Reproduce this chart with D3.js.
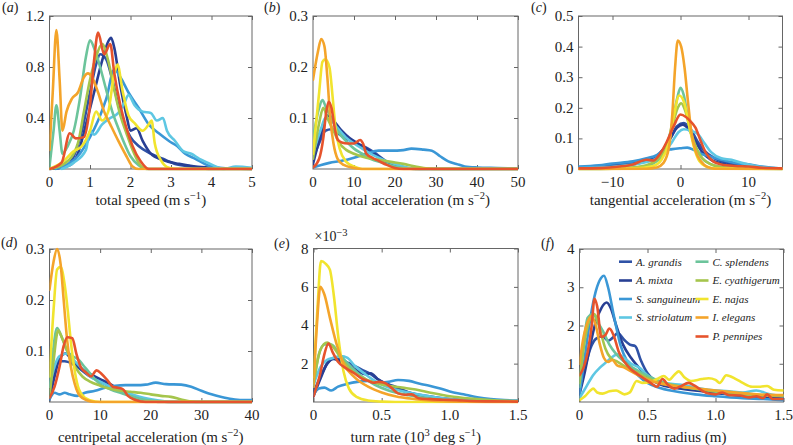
<!DOCTYPE html>
<html><head><meta charset="utf-8">
<script src="https://cdn.jsdelivr.net/npm/d3@7"></script>
<style>
body{margin:0;background:#fff}
svg{display:block}
</style></head><body>
<svg id="chart" width="793" height="445"></svg>
<script>
// ---------- species & colours ----------
const species = ["A. grandis","A. mixta","S. sanguineum","S. striolatum","C. splendens","E. cyathigerum","E. najas","I. elegans","P. pennipes"];
const colors  = ["#2f52a6","#283f94","#3a97d6","#5ec7e3","#6cc49b","#a5c54c","#f1e42e","#f4a42a","#e6532c"];

// ---------- (a) total speed ----------
const speedData = [
 [[0,0],[0.4,0.02],[0.6,0.1],[0.8,0.3],[1.0,0.6],[1.15,0.82],[1.25,0.9],[1.4,0.86],[1.55,0.7],[1.7,0.5],[1.85,0.35],[2.0,0.25],[2.2,0.18],[2.5,0.12],[2.8,0.08],[3.1,0.04],[3.5,0.02],[4.0,0],[5,0]],
 [[0,0],[0.5,0.03],[0.7,0.12],[0.9,0.35],[1.1,0.6],[1.3,0.85],[1.45,1.0],[1.52,1.03],[1.6,0.95],[1.75,0.65],[1.9,0.42],[2.0,0.3],[2.15,0.32],[2.3,0.22],[2.5,0.12],[2.8,0.07],[3.2,0.04],[3.6,0.02],[4.0,0.01],[5,0]],
 [[0.15,0],[0.4,0.03],[0.7,0.1],[1.0,0.25],[1.2,0.38],[1.4,0.55],[1.6,0.78],[1.75,0.72],[1.95,0.6],[2.2,0.48],[2.45,0.35],[2.7,0.28],[2.95,0.22],[3.15,0.18],[3.35,0.12],[3.6,0.08],[3.9,0.03],[4.2,0.01],[5,0]],
 [[0.3,0],[0.6,0.05],[0.9,0.15],[1.0,0.3],[1.1,0.27],[1.3,0.35],[1.5,0.4],[1.7,0.44],[1.85,0.52],[1.95,0.58],[2.1,0.5],[2.3,0.45],[2.5,0.44],[2.65,0.38],[2.8,0.4],[2.9,0.3],[3.1,0.22],[3.3,0.14],[3.5,0.12],[3.7,0.08],[3.9,0.05],[4.1,0.02],[4.3,0],[4.6,0.02],[5,0.01]],
 [[0,0.02],[0.1,0.3],[0.17,0.5],[0.25,0.3],[0.32,0.12],[0.45,0.18],[0.6,0.3],[0.75,0.55],[0.9,0.88],[1.0,1.01],[1.1,0.95],[1.25,0.8],[1.4,0.62],[1.55,0.45],[1.7,0.32],[1.85,0.2],[2.0,0.1],[2.2,0.03],[2.4,0],[5,0]],
 [[0,0],[0.4,0.05],[0.7,0.2],[0.85,0.45],[1.0,0.7],[1.15,0.88],[1.3,0.98],[1.45,0.85],[1.6,0.62],[1.75,0.42],[1.9,0.28],[2.05,0.15],[2.2,0.05],[2.4,0],[5,0]],
 [[0,0],[0.3,0.05],[0.6,0.14],[0.8,0.18],[1.0,0.3],[1.15,0.45],[1.3,0.38],[1.45,0.45],[1.6,0.75],[1.68,0.82],[1.8,0.62],[1.95,0.42],[2.1,0.36],[2.3,0.3],[2.45,0.35],[2.52,0.38],[2.6,0.2],[2.75,0.07],[2.95,0.01],[3.2,0],[5,0]],
 [[0,0.15],[0.08,0.6],[0.17,1.09],[0.25,0.7],[0.32,0.3],[0.42,0.45],[0.55,0.55],[0.7,0.6],[0.85,0.72],[0.95,0.75],[1.05,0.72],[1.2,0.6],[1.35,0.45],[1.5,0.35],[1.7,0.22],[1.9,0.1],[2.05,0.02],[2.2,0],[5,0]],
 [[0,0],[0.3,0.05],[0.5,0.28],[0.65,0.24],[0.85,0.25],[1.0,0.5],[1.1,0.85],[1.2,1.07],[1.35,0.9],[1.5,0.98],[1.6,0.75],[1.75,0.5],[1.9,0.32],[2.05,0.18],[2.25,0.06],[2.45,0],[5,0]]
];
const speedXTicks = [0,1,2,3,4,5];
const speedXLabels = ["0","1","2","3","4","5"];
const speedYTicks = [0.4,0.8,1.2];
const speedYLabels = ["0.4","0.8","1.2"];

// ---------- (b) total acceleration ----------
const accData = [
 [[0,0.02],[2,0.06],[3,0.075],[4.5,0.078],[6,0.07],[8,0.06],[10.5,0.05],[13,0.042],[15,0.032],[17,0.02],[19,0.01],[22,0.003],[26,0],[50,0]],
 [[0,0.01],[2,0.07],[3.5,0.105],[5,0.095],[7,0.075],[9,0.06],[11,0.05],[13,0.04],[15,0.03],[17,0.018],[19,0.008],[22,0.002],[25,0],[50,0]],
 [[0,0.003],[2,0.008],[4,0.012],[7,0.016],[10,0.022],[13,0.03],[16,0.036],[19,0.036],[22,0.037],[24,0.04],[27,0.038],[29,0.036],[31,0.025],[33,0.015],[35,0.01],[37,0.005],[40,0.003],[45,0.002],[50,0.001]],
 [[0,0.03],[2,0.08],[3,0.1],[4.5,0.095],[6,0.08],[8,0.062],[10,0.05],[12,0.04],[14,0.03],[16,0.022],[18,0.015],[20,0.01],[23,0.003],[26,0],[50,0]],
 [[0,0.06],[1.5,0.12],[2.3,0.135],[3.2,0.12],[4.5,0.1],[6,0.075],[8,0.055],[10,0.04],[12,0.03],[14,0.02],[17,0.012],[20,0.005],[23,0.001],[26,0],[50,0]],
 [[0,0.02],[1.5,0.09],[2.5,0.12],[3.5,0.1],[5,0.075],[6.5,0.05],[8,0.038],[10,0.03],[13,0.022],[16,0.018],[19,0.014],[22,0.01],[25,0.005],[28,0.001],[31,0],[50,0]],
 [[0,0.03],[1.5,0.15],[2.3,0.21],[3,0.215],[4,0.2],[4.8,0.14],[5.5,0.08],[6.5,0.04],[8,0.015],[10,0.005],[12,0],[50,0]],
 [[0,0.175],[1.2,0.23],[2,0.255],[2.8,0.24],[3.5,0.18],[4.2,0.1],[5,0.05],[6,0.02],[7.5,0.008],[10,0.002],[12,0],[50,0]],
 [[0,0.003],[1.5,0.02],[2.5,0.06],[3.2,0.11],[3.8,0.132],[4.5,0.12],[5.3,0.08],[6,0.058],[7,0.052],[8.5,0.05],[10,0.05],[11.5,0.057],[12.2,0.05],[13,0.03],[14.5,0.022],[16,0.016],[18,0.008],[20,0.002],[22,0],[50,0]]
];
const accXTicks = [0,10,20,30,40,50];
const accXLabels = ["0","10","20","30","40","50"];
const accYTicks = [0.1,0.2,0.3];
const accYLabels = ["0.1","0.2","0.3"];

// ---------- (c) tangential acceleration ----------
const tanData = [
 [[-15,0.005],[-12,0.008],[-9,0.015],[-6,0.025],[-4,0.035],[-2.5,0.06],[-1.5,0.1],[-0.5,0.14],[0.5,0.15],[1.5,0.13],[2.5,0.09],[3.5,0.06],[5,0.035],[7,0.02],[9,0.012],[11,0.006],[13,0.003],[15,0.001]],
 [[-15,0.003],[-10,0.008],[-6,0.02],[-4,0.035],[-2.5,0.065],[-1.5,0.1],[-0.5,0.135],[0.3,0.145],[1.2,0.13],[2.2,0.09],[3.2,0.055],[4.5,0.03],[6,0.018],[8,0.01],[11,0.005],[15,0.001]],
 [[-15,0.008],[-12,0.012],[-10,0.018],[-7,0.025],[-5,0.035],[-3.5,0.045],[-2.5,0.06],[-1.2,0.065],[0,0.068],[1,0.07],[2,0.062],[3,0.05],[4.5,0.04],[6,0.03],[8,0.02],[10,0.015],[12,0.008],[14,0.003],[15,0.002]],
 [[-15,0.003],[-9,0.01],[-6,0.018],[-4,0.03],[-2.5,0.05],[-1.2,0.09],[-0.3,0.12],[0.5,0.13],[1.5,0.125],[2.5,0.115],[3.5,0.085],[4.5,0.055],[6,0.035],[7.5,0.03],[9,0.02],[11,0.01],[13,0.004],[15,0.002]],
 [[-15,0],[-8,0.003],[-5,0.01],[-3.5,0.025],[-2.2,0.06],[-1.2,0.15],[-0.5,0.23],[0,0.265],[0.5,0.24],[1.2,0.15],[2.2,0.07],[3.2,0.035],[4.5,0.015],[6,0.006],[9,0.002],[15,0]],
 [[-15,0],[-8,0.003],[-5,0.012],[-3.5,0.03],[-2.2,0.065],[-1.2,0.14],[-0.4,0.2],[0.1,0.215],[0.7,0.19],[1.4,0.13],[2.3,0.07],[3.2,0.035],[4.5,0.015],[6,0.006],[9,0.002],[15,0]],
 [[-15,0],[-7,0.002],[-4,0.01],[-2.8,0.03],[-1.8,0.08],[-1,0.17],[-0.2,0.24],[0.5,0.22],[1.2,0.15],[2,0.07],[2.8,0.025],[3.8,0.008],[5,0.002],[15,0]],
 [[-15,0],[-5,0.001],[-3.5,0.005],[-2.5,0.02],[-1.7,0.07],[-1.2,0.18],[-0.8,0.33],[-0.4,0.42],[0.1,0.4],[0.6,0.33],[1.1,0.22],[1.6,0.12],[2.2,0.06],[3,0.025],[4,0.006],[5,0.001],[15,0]],
 [[-15,0.002],[-12,0.003],[-9,0.008],[-7,0.015],[-5,0.03],[-4,0.028],[-3,0.05],[-2,0.09],[-1,0.14],[0,0.178],[0.8,0.17],[1.5,0.155],[2.2,0.135],[3,0.09],[3.8,0.05],[4.8,0.025],[6,0.015],[8,0.01],[10,0.008],[12,0.004],[15,0.002]]
];
const tanXTicks = [-10,0,10];
const tanXLabels = ["\u221210","0","10"];
const tanYTicks = [0,0.1,0.2,0.3,0.4,0.5];
const tanYLabels = ["0","0.1","0.2","0.3","0.4","0.5"];

// ---------- (d) centripetal acceleration ----------
const cenData = [
 [[0,0.01],[0.8,0.06],[1.5,0.08],[3,0.08],[4.5,0.075],[6,0.065],[8,0.05],[10,0.04],[12,0.03],[14,0.02],[16,0.012],[18,0.006],[21,0.002],[24,0],[40,0]],
 [[0,0.005],[1,0.05],[2,0.085],[3.2,0.095],[4.5,0.08],[6,0.068],[8,0.055],[10,0.045],[12,0.035],[14,0.022],[16,0.012],[19,0.004],[22,0],[40,0]],
 [[0,0.005],[1,0.018],[2,0.015],[3,0.018],[4,0.015],[5.5,0.012],[7,0.018],[9,0.022],[11,0.028],[13,0.032],[15,0.033],[17,0.033],[19,0.034],[21,0.038],[23,0.035],[26,0.034],[28,0.03],[30,0.022],[32,0.015],[34,0.01],[36,0.006],[38,0.004],[40,0.004]],
 [[0,0.03],[1,0.07],[2,0.09],[3.5,0.095],[5,0.08],[6.5,0.065],[8,0.05],[10,0.04],[12,0.03],[14,0.022],[16,0.016],[18,0.01],[21,0.004],[24,0],[40,0]],
 [[0,0.03],[0.7,0.1],[1.5,0.145],[2.3,0.13],[3.5,0.1],[4.5,0.09],[5.5,0.085],[7,0.068],[8.5,0.05],[10,0.035],[12,0.025],[14,0.018],[16,0.012],[18,0.006],[21,0.002],[24,0],[40,0]],
 [[0,0.01],[0.8,0.08],[1.7,0.14],[2.5,0.125],[3.5,0.1],[5,0.07],[6.5,0.05],[8,0.04],[10,0.032],[12,0.026],[14,0.022],[16,0.02],[18,0.018],[20,0.015],[22,0.012],[24,0.01],[26,0.005],[28,0.001],[30,0],[40,0]],
 [[0,0.05],[0.8,0.18],[1.5,0.26],[2.2,0.265],[3,0.23],[3.6,0.18],[4.2,0.12],[5,0.06],[5.8,0.025],[7,0.008],[9,0.001],[11,0],[40,0]],
 [[0,0.22],[0.8,0.275],[1.5,0.3],[2.2,0.27],[2.8,0.2],[3.5,0.12],[4.2,0.07],[5,0.035],[6,0.012],[7.5,0.003],[9,0],[40,0]],
 [[0,0.008],[1,0.03],[2,0.07],[2.8,0.11],[3.5,0.127],[4.5,0.125],[5.3,0.095],[6.2,0.068],[7.2,0.058],[8.2,0.05],[9.3,0.062],[10.3,0.055],[11.5,0.042],[12.5,0.03],[13.5,0.028],[14.5,0.025],[15.5,0.012],[17,0.004],[19,0],[40,0]]
];
const cenXTicks = [0,10,20,30,40];
const cenXLabels = ["0","10","20","30","40"];
const cenYTicks = [0.1,0.2,0.3];
const cenYLabels = ["0.1","0.2","0.3"];

// ---------- (e) turn rate (values in units of 10^-3) ----------
const rateData = [
 [[0,0.5],[0.05,1.3],[0.1,2.0],[0.15,2.3],[0.2,2.2],[0.28,1.95],[0.35,1.7],[0.42,1.45],[0.47,1.2],[0.52,1.0],[0.6,0.8],[0.7,0.5],[0.85,0.3],[1.0,0.15],[1.2,0.07],[1.5,0.03]],
 [[0,0.3],[0.05,1.2],[0.1,2.0],[0.15,2.25],[0.2,2.1],[0.27,1.85],[0.33,1.6],[0.38,1.45],[0.42,1.5],[0.47,1.2],[0.55,0.9],[0.65,0.6],[0.8,0.3],[1.0,0.12],[1.2,0.05],[1.5,0.02]],
 [[0,0.4],[0.04,0.7],[0.08,0.75],[0.13,0.6],[0.18,0.8],[0.25,0.95],[0.32,1.05],[0.4,1.1],[0.48,1.0],[0.55,1.05],[0.62,1.15],[0.7,1.1],[0.78,0.95],[0.85,0.85],[0.93,0.7],[1.0,0.55],[1.1,0.4],[1.2,0.25],[1.3,0.15],[1.4,0.1],[1.5,0.08]],
 [[0,0.9],[0.05,1.8],[0.1,2.2],[0.15,2.3],[0.2,2.4],[0.25,2.3],[0.3,1.9],[0.37,1.5],[0.45,1.1],[0.52,0.85],[0.6,0.65],[0.7,0.5],[0.85,0.3],[1.0,0.15],[1.2,0.06],[1.5,0.02]],
 [[0,0.8],[0.04,2.5],[0.08,3.0],[0.13,3.0],[0.2,2.4],[0.28,1.8],[0.36,1.3],[0.45,0.9],[0.55,0.6],[0.7,0.35],[0.85,0.18],[1.0,0.08],[1.2,0.03],[1.5,0.01]],
 [[0,1.0],[0.05,2.7],[0.1,3.1],[0.14,2.9],[0.2,2.3],[0.27,1.7],[0.35,1.3],[0.45,1.0],[0.55,0.85],[0.65,0.75],[0.75,0.65],[0.85,0.5],[1.0,0.3],[1.15,0.18],[1.3,0.1],[1.5,0.05]],
 [[0,1.3],[0.03,5],[0.055,7.35],[0.09,7.2],[0.12,6.9],[0.15,5.5],[0.18,3.5],[0.22,1.6],[0.26,0.7],[0.32,0.25],[0.4,0.08],[0.5,0.02],[0.6,0],[1.5,0]],
 [[0,0.8],[0.025,4],[0.05,6.0],[0.08,5.6],[0.12,4.4],[0.17,3.0],[0.22,2.0],[0.3,1.3],[0.4,0.8],[0.5,0.5],[0.6,0.3],[0.75,0.15],[0.9,0.06],[1.1,0.02],[1.5,0]],
 [[0,0.3],[0.05,1.5],[0.08,2.5],[0.11,3.05],[0.14,2.6],[0.18,2.1],[0.24,1.75],[0.3,1.5],[0.36,1.2],[0.4,1.1],[0.44,1.0],[0.48,1.05],[0.52,1.0],[0.57,0.75],[0.62,0.45],[0.67,0.38],[0.72,0.4],[0.77,0.2],[0.85,0.15],[0.95,0.12],[1.05,0.1],[1.15,0.05],[1.3,0.03],[1.5,0.02]]
];
const rateXTicks = [0,0.5,1.0,1.5];
const rateXLabels = ["0","0.5","1.0","1.5"];
const rateYTicks = [2,4,6,8];
const rateYLabels = ["2","4","6","8"];

// ---------- (f) turn radius ----------
const radData = [
 [[0,0.3],[0.04,0.9],[0.08,1.4],[0.12,1.65],[0.17,1.72],[0.21,1.6],[0.25,1.7],[0.28,1.8],[0.33,1.62],[0.37,1.5],[0.41,1.46],[0.45,1.1],[0.5,0.75],[0.56,0.55],[0.65,0.45],[0.8,0.35],[1.0,0.25],[1.2,0.15],[1.5,0.1]],
 [[0,0.2],[0.04,0.8],[0.08,1.5],[0.12,2.1],[0.16,2.45],[0.2,2.6],[0.23,2.45],[0.27,2.0],[0.32,1.5],[0.38,1.15],[0.45,0.85],[0.52,0.6],[0.6,0.45],[0.75,0.35],[0.9,0.28],[1.1,0.2],[1.3,0.12],[1.5,0.08]],
 [[0,0.2],[0.04,1.2],[0.08,2.2],[0.12,2.9],[0.16,3.25],[0.18,3.3],[0.21,3.0],[0.25,2.3],[0.3,1.5],[0.36,1.0],[0.43,0.7],[0.5,0.5],[0.58,0.38],[0.7,0.28],[0.85,0.2],[1.0,0.15],[1.2,0.1],[1.35,0.08],[1.5,0.05]],
 [[0,0.1],[0.05,0.4],[0.1,0.7],[0.15,0.9],[0.2,1.05],[0.25,1.2],[0.28,1.25],[0.33,1.15],[0.38,1.0],[0.44,0.9],[0.5,0.7],[0.57,0.55],[0.65,0.48],[0.75,0.45],[0.85,0.38],[0.95,0.32],[1.1,0.28],[1.2,0.25],[1.3,0.3],[1.4,0.2],[1.5,0.15]],
 [[0,0.4],[0.03,1.5],[0.06,2.2],[0.1,2.3],[0.14,2.05],[0.18,1.8],[0.22,1.5],[0.27,1.25],[0.33,1.05],[0.4,0.88],[0.48,0.72],[0.55,0.6],[0.65,0.48],[0.8,0.38],[0.95,0.3],[1.1,0.22],[1.3,0.18],[1.5,0.15]],
 [[0,0.5],[0.03,1.4],[0.07,2.1],[0.11,2.3],[0.15,1.9],[0.19,1.4],[0.23,1.15],[0.28,1.05],[0.35,0.9],[0.42,0.78],[0.5,0.62],[0.6,0.5],[0.72,0.42],[0.85,0.35],[1.0,0.28],[1.2,0.22],[1.35,0.18],[1.5,0.17]],
 [[0,0.05],[0.04,0.15],[0.08,0.3],[0.1,0.35],[0.13,0.25],[0.17,0.22],[0.22,0.28],[0.27,0.3],[0.33,0.2],[0.37,0.25],[0.42,0.55],[0.46,0.5],[0.52,0.52],[0.57,0.6],[0.62,0.68],[0.66,0.58],[0.7,0.72],[0.73,0.8],[0.77,0.65],[0.82,0.55],[0.9,0.6],[0.95,0.62],[1.0,0.58],[1.03,0.5],[1.08,0.7],[1.15,0.6],[1.2,0.5],[1.27,0.4],[1.33,0.4],[1.38,0.42],[1.43,0.32],[1.5,0.3]],
 [[0,1.0],[0.03,1.7],[0.06,2.1],[0.09,2.25],[0.12,2.0],[0.15,1.5],[0.18,1.15],[0.21,1.05],[0.24,1.1],[0.28,0.95],[0.33,0.9],[0.38,0.8],[0.43,0.7],[0.5,0.58],[0.6,0.48],[0.7,0.42],[0.85,0.36],[1.0,0.3],[1.15,0.25],[1.3,0.2],[1.5,0.18]],
 [[0,0.7],[0.03,0.9],[0.06,1.3],[0.09,2.0],[0.11,2.7],[0.13,2.5],[0.16,1.7],[0.19,1.75],[0.22,1.92],[0.25,1.75],[0.29,1.3],[0.33,1.05],[0.38,0.85],[0.43,0.72],[0.48,0.6],[0.53,0.48],[0.57,0.4],[0.61,0.6],[0.65,0.45],[0.7,0.35],[0.75,0.42],[0.8,0.5],[0.85,0.42],[0.9,0.3],[0.95,0.22],[1.0,0.2],[1.05,0.25],[1.1,0.18],[1.18,0.17],[1.25,0.12],[1.3,0.15],[1.35,0.1],[1.38,0.2],[1.42,0.08],[1.5,0.08]]
];
const radXTicks = [0,0.5,1.0,1.5];
const radXLabels = ["0","0.5","1.0","1.5"];
const radYTicks = [1,2,3,4];
const radYLabels = ["1","2","3","4"];

// ---------- layout ----------
const FONT = "Liberation Serif";
const svg = d3.select("#chart");
const panels = [
  {id:"a", data:speedData, xd:[0,5],   yd:[0,1.2], xt:speedXTicks, xl:speedXLabels, yt:speedYTicks, yl:speedYLabels,
   box:[49.5,252,16,169], lab:[2,12], title:["total speed (m s","\u22121",")"], tOff:36},
  {id:"b", data:accData,   xd:[0,50],  yd:[0,0.3], xt:accXTicks, xl:accXLabels, yt:accYTicks, yl:accYLabels,
   box:[313,518,16,169], lab:[264,12], title:["total acceleration (m s","\u22122",")"], tOff:36},
  {id:"c", data:tanData,   xd:[-15,15],yd:[0,0.5], xt:tanXTicks, xl:tanXLabels, yt:tanYTicks, yl:tanYLabels,
   box:[578.5,782.5,16,169], lab:[531,12], title:["tangential acceleration (m s","\u22122",")"], tOff:36},
  {id:"d", data:cenData,   xd:[0,40],  yd:[0,0.3], xt:cenXTicks, xl:cenXLabels, yt:cenYTicks, yl:cenYLabels,
   box:[49.5,252,249,402], lab:[1,247], title:["centripetal acceleration (m s","\u22122",")"], tOff:40},
  {id:"e", data:rateData,  xd:[0,1.5], yd:[0,8],   xt:rateXTicks, xl:rateXLabels, yt:rateYTicks, yl:rateYLabels,
   box:[313.5,518,248.5,402], lab:[274,248], title:["turn rate (10","3"," deg s","\u22121",")"], tOff:40},
  {id:"f", data:radData,   xd:[0,1.5], yd:[0,4],   xt:radXTicks, xl:radXLabels, yt:radYTicks, yl:radYLabels,
   box:[579.5,783.5,249,402], lab:[541,248], title:["turn radius (m)"], tOff:40}
];

const TICK = 4;
const TXT = "#222";
panels.forEach(p => {
  const [x0,x1,y0,y1] = p.box;
  const x = d3.scaleLinear().domain(p.xd).range([x0,x1]);
  const y = d3.scaleLinear().domain(p.yd).range([y1,y0]);
  const g = svg.append("g");

  g.append("clipPath").attr("id","clip-"+p.id).append("rect")
    .attr("x",x0).attr("y",y0-2).attr("width",x1-x0).attr("height",y1-y0+3.5);

  g.append("rect").attr("x",x0).attr("y",y0).attr("width",x1-x0).attr("height",y1-y0)
    .attr("fill","none").attr("stroke","#666").attr("stroke-width",1);

  const ax = (axis, tr) => {
    const a = g.append("g").attr("transform",tr).call(axis);
    a.select(".domain").remove();
    a.selectAll("line").attr("stroke","#666");
    a.selectAll("text").remove();
  };
  ax(d3.axisBottom(x).tickValues(p.xt).tickSize(-TICK), `translate(0,${y1})`);
  ax(d3.axisTop(x).tickValues(p.xt).tickSize(-TICK), `translate(0,${y0})`);
  ax(d3.axisLeft(y).tickValues(p.yt).tickSize(-TICK), `translate(${x0},0)`);
  ax(d3.axisRight(y).tickValues(p.yt).tickSize(-TICK), `translate(${x1},0)`);

  p.xt.forEach((v,i) => {
    g.append("text").attr("x",x(v)).attr("y",y1+17.5).attr("text-anchor","middle")
      .attr("font-size",15).attr("fill",TXT).text(p.xl[i]);
  });
  p.yt.forEach((v,i) => {
    g.append("text").attr("x",x0-5).attr("y",y(v)+5).attr("text-anchor","end")
      .attr("font-size",15).attr("fill",TXT).text(p.yl[i]);
  });

  const line = d3.line().x(d=>x(d[0])).y(d=>y(d[1])).curve(d3.curveMonotoneX);
  g.append("g").attr("clip-path",`url(#clip-${p.id})`)
    .selectAll("path").data(p.data).join("path")
    .attr("d",line).attr("fill","none")
    .attr("stroke",(d,i)=>colors[i]).attr("stroke-width",2.6)
    .attr("stroke-linejoin","round").attr("stroke-linecap","round");

  const t = g.append("text").attr("x",(x0+x1)/2).attr("y",y1+p.tOff)
    .attr("text-anchor","middle").attr("font-size",15).attr("fill",TXT);
  p.title.forEach((s,i) => {
    const sup = i % 2 === 1;
    const ts = t.append("tspan").text(s);
    if (sup) ts.attr("font-size",10.5).attr("dy",-6);
    else if (i>0) ts.attr("dy",6);
  });

  const l = g.append("text").attr("x",p.lab[0]).attr("y",p.lab[1]).attr("font-size",14).attr("fill",TXT);
  l.append("tspan").text("(");
  l.append("tspan").attr("font-style","italic").text(p.id);
  l.append("tspan").text(")");

  if (p.id === "e") {
    const m = g.append("text").attr("x",x0+1).attr("y",y0-8).attr("font-size",14).attr("fill",TXT);
    m.append("tspan").text("\u00d710");
    m.append("tspan").attr("font-size",10.5).attr("dy",-5).text("\u22123");
  }

  if (p.id === "f") {
    const leg = g.append("g");
    const rowY = [261.7,280.5,299,317.5,336.5];
    species.forEach((s,i) => {
      const col = i < 4 ? 0 : 1;
      const row = i < 4 ? i : i - 4;
      const lx = col === 0 ? 619 : 695.5;
      const yy = rowY[row];
      leg.append("line").attr("x1",lx).attr("x2",lx+13).attr("y1",yy).attr("y2",yy)
        .attr("stroke",colors[i]).attr("stroke-width",2.6);
      leg.append("text").attr("x",lx+17).attr("y",yy+3.8).attr("font-size",11)
        .attr("font-style","italic").attr("fill",TXT).text(s);
    });
  }
});
svg.selectAll("text").attr("font-family", FONT);
</script>
</body></html>
